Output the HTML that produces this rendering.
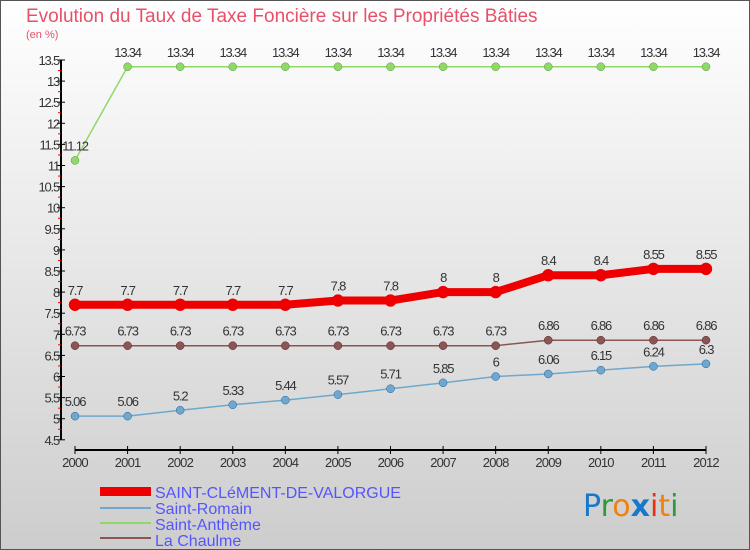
<!DOCTYPE html>
<html><head><meta charset="utf-8"><style>
body{margin:0}
svg{display:block;font-family:"Liberation Sans",sans-serif}
</style></head><body>
<svg id="c" width="750" height="550" viewBox="0 0 750 550">
<defs><linearGradient id="bg" x1="0" y1="0" x2="0" y2="1"><stop offset="0" stop-color="#ffffff"/><stop offset="1" stop-color="#cdcdcd"/></linearGradient></defs>
<rect x="0.5" y="0.5" width="749" height="549" fill="url(#bg)" stroke="#555"/>
<text x="26" y="22" font-size="19" fill="#e8506a">Evolution du Taux de Taxe Foncière sur les Propriétés Bâties</text>
<text x="26" y="38" font-size="11" fill="#e8506a">(en %)</text>
<g id="axes"></g>
<g id="series"></g>
<g id="legend" font-size="16" fill="#5555ff">
<rect x="100" y="487" width="51" height="9" fill="#ee0000"/>
<text x="155" y="498">SAINT-CLéMENT-DE-VALORGUE</text>
<rect x="100" y="507" width="51" height="2" fill="#6fa8cc"/>
<text x="155" y="514">Saint-Romain</text>
<rect x="100" y="522" width="51" height="2" fill="#8fd86a"/>
<text x="155" y="530">Saint-Anthème</text>
<rect x="100" y="537" width="51" height="2" fill="#8a5555"/>
<text x="155" y="546">La Chaulme</text>
</g>
<g font-size="30" font-family="'DejaVu Sans',sans-serif">
<text x="583" y="516"><tspan fill="#1a78cc">P</tspan><tspan fill="#2a9a3a">r</tspan><tspan fill="#f08010">o</tspan><tspan fill="#1a78cc" font-weight="bold">x</tspan><tspan fill="#e83010">i</tspan><tspan fill="#f08010">t</tspan><tspan fill="#2a9a3a">i</tspan></text>
</g>
</svg>
<script>
const years=[2000,2001,2002,2003,2004,2005,2006,2007,2008,2009,2010,2011,2012];
const saintClement=[7.7,7.7,7.7,7.7,7.7,7.8,7.8,8,8,8.4,8.4,8.55,8.55];
const saintRomain=[5.06,5.06,5.2,5.33,5.44,5.57,5.71,5.85,6,6.06,6.15,6.24,6.3];
const saintAntheme=[11.12,13.34,13.34,13.34,13.34,13.34,13.34,13.34,13.34,13.34,13.34,13.34,13.34];
const laChaulme=[6.73,6.73,6.73,6.73,6.73,6.73,6.73,6.73,6.73,6.86,6.86,6.86,6.86];
const yTicks=[4.5,5,5.5,6,6.5,7,7.5,8,8.5,9,9.5,10,10.5,11,11.5,12,12.5,13,13.5];
const NS="http://www.w3.org/2000/svg";
const X=i=>75+i*(706-75)/(years.length-1);
const Y=v=>60+(13.5-v)*42.2;
function mk(t,a,p){const e=document.createElementNS(NS,t);for(const k in a)e.setAttribute(k,a[k]);p.appendChild(e);return e;}
const ax=document.getElementById('axes');
let yl=mk('line',{x1:61,y1:Y(13.5),x2:61,y2:Y(4.5),stroke:'#000','stroke-width':2},ax);


yTicks.forEach((v,k)=>{
 mk('line',{x1:57,y1:Y(v),x2:65,y2:Y(v),stroke:'#000'},ax);
 if(k<yTicks.length-1) mk('line',{x1:58,y1:Y(v+0.25),x2:61,y2:Y(v+0.25),stroke:'#e00'},ax);
 let t=mk('text',{x:59,y:Y(v)+5,'text-anchor':'end','font-size':13,fill:'#333','letter-spacing':'-1.2'},ax);
 t.textContent=String(v);
 
 
});
let xl=mk('line',{x1:X(0),y1:450,x2:X(years.length-1),y2:450,stroke:'#000','stroke-width':2},ax);


years.forEach((y,i)=>{
 mk('line',{x1:X(i),y1:446,x2:X(i),y2:454,stroke:'#000'},ax);
 let t=mk('text',{x:X(i),y:467,'text-anchor':'middle','font-size':13,fill:'#333','letter-spacing':'-0.8'},ax);
 t.textContent=y;
 
 
});
const sg=document.getElementById('series');
function series(vals,col,w,r,name,labelCol){
 const g=mk('g',{},sg);
 
 
 mk('polyline',{points:vals.map((v,i)=>X(i)+','+Y(v)).join(' '),fill:'none',stroke:col,'stroke-width':w,'stroke-linejoin':'round'},g);
 vals.forEach((v,i)=>{
  let c=mk('circle',{cx:X(i),cy:Y(v),r:r,fill:col,stroke:labelCol,'stroke-width':0.5},g);
  
  
  let t=mk('text',{x:X(i),y:Y(v)-10,'text-anchor':'middle','font-size':13,fill:'#333','letter-spacing':'-1.2'},g);
  t.textContent=String(v);
  
  
 });
}
series(saintAntheme,'#8fd86a',1.5,4,'series-saint-antheme','#5a9a30');
series(laChaulme,'#8a5555',1.5,4,'series-la-chaulme','#5a2020');
series(saintRomain,'#6fa8cc',1.5,4,'series-saint-romain','#2060a0');
series(saintClement,'#ee0000',8,6,'series-saint-clement','#e00');
</script>
</body></html>
